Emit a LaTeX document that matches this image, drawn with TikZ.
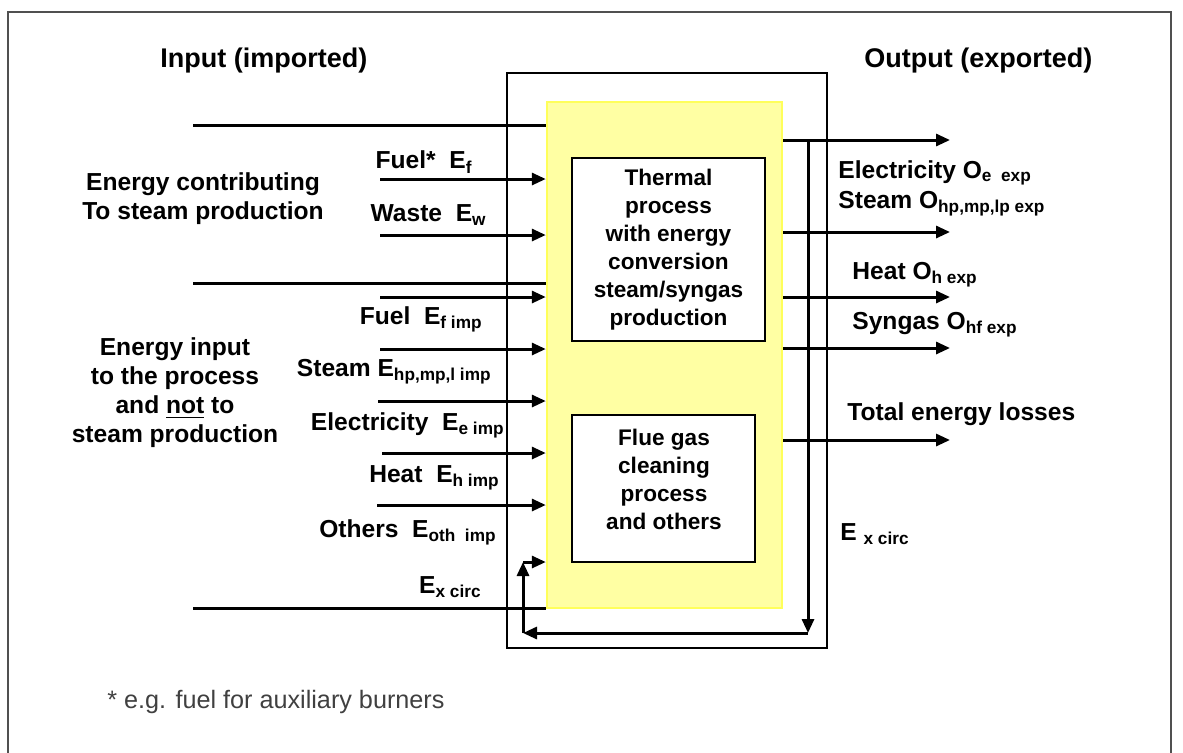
\documentclass[tikz,border=0pt]{standalone}
\usepackage{fontspec}
\setmainfont{Liberation Sans}
\usetikzlibrary{arrows.meta}
\definecolor{plantfill}{RGB}{255,255,163}
\definecolor{plantedge}{RGB}{255,255,90}
\definecolor{framegray}{RGB}{80,80,80}
\tikzset{
  flow/.style={line width=1.5pt, -{Triangle[length=7pt,width=6pt]}},
  feed/.style={line width=1.5pt},
  lbl/.style={font=\bfseries\fontsize{12.3}{14.5}\selectfont, inner sep=0pt},
  heading/.style={font=\bfseries\fontsize{13.5}{16}\selectfont, inner sep=0pt},
  boxtxt/.style={font=\bfseries\fontsize{11.3}{14}\selectfont, align=center, inner sep=0pt},
  whitebox/.style={draw, fill=white, line width=0.8pt, inner sep=0pt}
}
\begin{document}
\begin{tikzpicture}[x=0.5pt, y=-0.5pt]
  \useasboundingbox (0,0) rectangle (1183,752);
  \draw[framegray, line width=0.9pt] (8,770) -- (8,12) -- (1171,12) -- (1171,770);

  % system boundary and plant
  \node[draw, line width=0.6pt, minimum width=160pt, minimum height=287.5pt, inner sep=0pt] (sys) at (667,360.5) {};
  \node[fill=plantfill, draw=plantedge, line width=1.2pt, minimum width=117.5pt, minimum height=253pt, inner sep=0pt] (plant) at (664.5,355) {};
  \node[whitebox, boxtxt, minimum width=96.5pt, minimum height=91.5pt] (thermal) at (668.5,249.5)
    {Thermal\\process\\with energy\\conversion\\steam/syngas\\production};
  \node[whitebox, minimum width=91.5pt, minimum height=73.5pt] (flue) at (663.5,488.5) {};
  \node[boxtxt] (fluetxt) at (664,479) {Flue gas\\cleaning\\process\\and others};

  % headings
  \node[heading, anchor=west] (intitle) at (160,61) {Input (imported)};
  \node[heading, anchor=west] (outtitle) at (864,61) {Output (exported)};
  \node[lbl, align=center] (contrib) at (203,199) {Energy contributing\\To steam production};
  \node[lbl, align=center] (notsteam) at (175,393) {Energy input\\to the process\\and \underline{not} to\\steam production};

  % input side
  \coordinate (topS) at (193,125);
  \coordinate (midS) at (193,283);
  \coordinate (botS) at (193,608);
  \draw[feed] (topS) -- (topS -| plant.west);
  \draw[feed] (midS) -- (midS -| plant.west);
  \draw[feed] (botS) -- (botS -| plant.west);

  \coordinate (fuelS) at (380,179);
  \coordinate (wasteS) at (380,235);
  \coordinate (auxS) at (380,297);
  \coordinate (fuelimpS) at (380,349);
  \coordinate (steamS) at (378,401);
  \coordinate (elecS) at (382,453);
  \coordinate (heatS) at (377,505);
  \draw[flow] (fuelS) -- (fuelS -| plant.west);
  \draw[flow] (wasteS) -- (wasteS -| plant.west);
  \draw[flow] (auxS) -- (auxS -| plant.west);
  \draw[flow] (fuelimpS) -- (fuelimpS -| plant.west);
  \draw[flow] (steamS) -- (steamS -| plant.west);
  \draw[flow] (elecS) -- (elecS -| plant.west);
  \draw[flow] (heatS) -- (heatS -| plant.west);

  \node[lbl, anchor=east] (fuelL) at (473,162) {Fuel*~~E\textsubscript{f}};
  \node[lbl, anchor=east] (wasteL) at (487,215) {Waste~~E\textsubscript{w}};
  \node[lbl, anchor=east] (fuelimpL) at (483,319) {Fuel~~E\textsubscript{f imp}};
  \node[lbl, anchor=east] (steamL) at (492,372) {Steam E\textsubscript{hp,mp,l imp}};
  \node[lbl, anchor=east] (elecL) at (505,425) {Electricity~~E\textsubscript{e imp}};
  \node[lbl, anchor=east] (heatL) at (500,478) {Heat~~E\textsubscript{h imp}};
  \node[lbl, anchor=east] (othL) at (497,532) {Others~~E\textsubscript{oth~~imp}};
  \node[lbl, anchor=east] (circL) at (482,587) {E\textsubscript{x circ}};

  % output side
  \coordinate (elecE) at (950,140);
  \coordinate (steamE) at (950,232);
  \coordinate (heatE) at (950,297);
  \coordinate (syngasE) at (950,348);
  \coordinate (lossE) at (950,440);
  \draw[flow] (elecE -| plant.east) -- (elecE);
  \draw[flow] (steamE -| plant.east) -- (steamE);
  \draw[flow] (heatE -| plant.east) -- (heatE);
  \draw[flow] (syngasE -| plant.east) -- (syngasE);
  \draw[flow] (lossE -| plant.east) -- (lossE);

  \node[lbl, anchor=west] (elecR) at (838,173) {Electricity O\textsubscript{e~~exp}};
  \node[lbl, anchor=west] (steamR) at (838,204) {Steam O\textsubscript{hp,mp,lp exp}};
  \node[lbl, anchor=west] (heatR) at (852,275) {Heat O\textsubscript{h exp}};
  \node[lbl, anchor=west] (syngasR) at (852,325) {Syngas O\textsubscript{hf exp}};
  \node[lbl, anchor=west] (lossR) at (847,414) {Total energy losses};
  \node[lbl, anchor=west] (circR) at (840,534) {E~\textsubscript{x circ}};

  % internal circulation
  \coordinate (split) at (808,140);
  \coordinate (ret) at (808,633);
  \coordinate (corner) at (523,633);
  \coordinate (back) at (523,562);
  \draw[flow] (split) -- (ret);
  \draw[flow] (ret) -- (corner);
  \draw[flow] (corner) -- (back);
  \draw[flow] (back) -- (back -| plant.west);

  \node[anchor=west, font=\fontsize{12.6}{15}\selectfont, text=black!75, inner sep=0pt] (note) at (107,702) {* e.g. fuel for auxiliary burners};
\end{tikzpicture}
\end{document}
